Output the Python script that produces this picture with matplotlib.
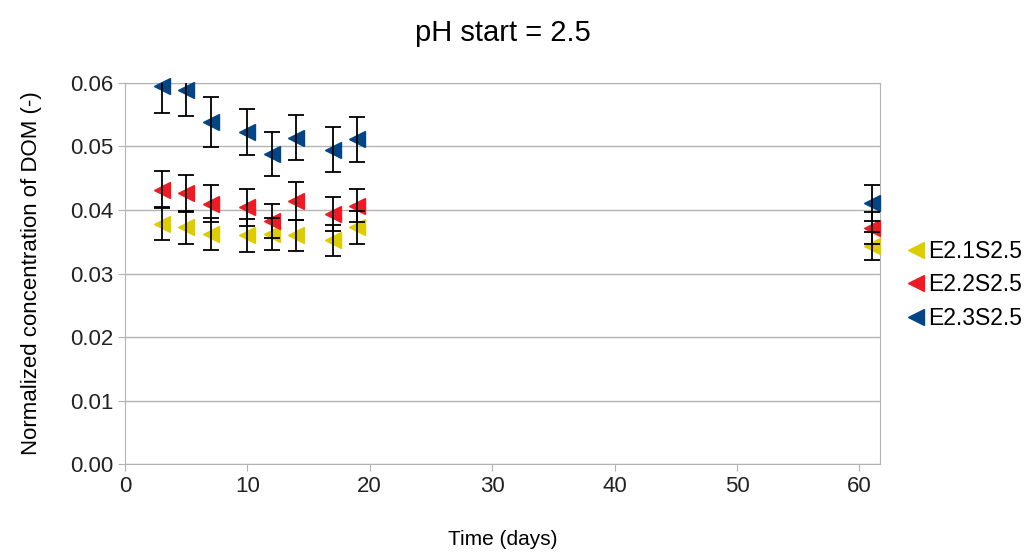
import matplotlib
matplotlib.use("Agg")
import matplotlib.pyplot as plt
from matplotlib.ticker import FormatStrFormatter

plt.rcParams['font.family'] = ['Liberation Sans', 'DejaVu Sans']

days = [3, 5, 7, 10, 12, 14, 17, 19, 61]

# E2.1S2.5 (yellow)
y1 = [0.0378, 0.0373, 0.0362, 0.0360, 0.0362, 0.0360, 0.0352, 0.0373, 0.0343]
e1 = [0.0026, 0.0026, 0.0025, 0.0026, 0.0025, 0.0025, 0.0025, 0.0026, 0.0022]
# E2.2S2.5 (red)
y2 = [0.0432, 0.0426, 0.0410, 0.0404, 0.0383, 0.0414, 0.0394, 0.0407, 0.0372]
e2 = [0.0029, 0.0029, 0.0029, 0.0029, 0.0027, 0.0030, 0.0027, 0.0026, 0.0025]
# E2.3S2.5 (blue)
y3 = [0.0595, 0.0589, 0.0538, 0.0523, 0.0488, 0.0514, 0.0495, 0.0511, 0.0411]
e3 = [0.0042, 0.0041, 0.0039, 0.0036, 0.0034, 0.0036, 0.0035, 0.0036, 0.0029]

labels = ["E2.1S2.5", "E2.2S2.5", "E2.3S2.5"]
colors = ["#dccc00", "#ed1c24", "#004586"]

fig = plt.figure(figsize=(10.32, 5.56), dpi=100)
ax = fig.add_axes([0.121, 0.165, 0.732, 0.686])

for y, e, c, lab in zip([y1, y2, y3], [e1, e2, e3], colors, labels):
    ax.plot(days, y, linestyle='none', marker='<', markersize=12,
            color=c, markeredgecolor=c, label=lab, zorder=3, clip_on=False)
    ax.errorbar(days, y, yerr=e, fmt='none', ecolor='black',
                elinewidth=1.3, capsize=6, capthick=1.3, zorder=4)

ax.set_xlim(0, 61.7)
ax.set_ylim(0, 0.06)
ax.set_xticks([0, 10, 20, 30, 40, 50, 60])
ax.set_yticks([0, 0.01, 0.02, 0.03, 0.04, 0.05, 0.06])
ax.yaxis.set_major_formatter(FormatStrFormatter('%.2f'))
ax.grid(axis='y', color='#b3b3b3', linewidth=1)
ax.set_axisbelow(True)
for s in ax.spines.values():
    s.set_color('#b3b3b3')
ax.tick_params(colors='#b3b3b3', labelcolor='#222222', labelsize=16, length=5)

ax.set_title("pH start = 2.5", fontsize=21, pad=30)
ax.set_xlabel("Time (days)", fontsize=15, labelpad=24)
ax.set_ylabel("Normalized concentration of DOM (-)", fontsize=16, labelpad=20)

ax.legend(loc='center left', bbox_to_anchor=(1.01, 0.47), frameon=False,
          fontsize=16.5, handlelength=0.7, handletextpad=0.15, labelspacing=0.45)

fig.savefig("out.png", dpi=100)
